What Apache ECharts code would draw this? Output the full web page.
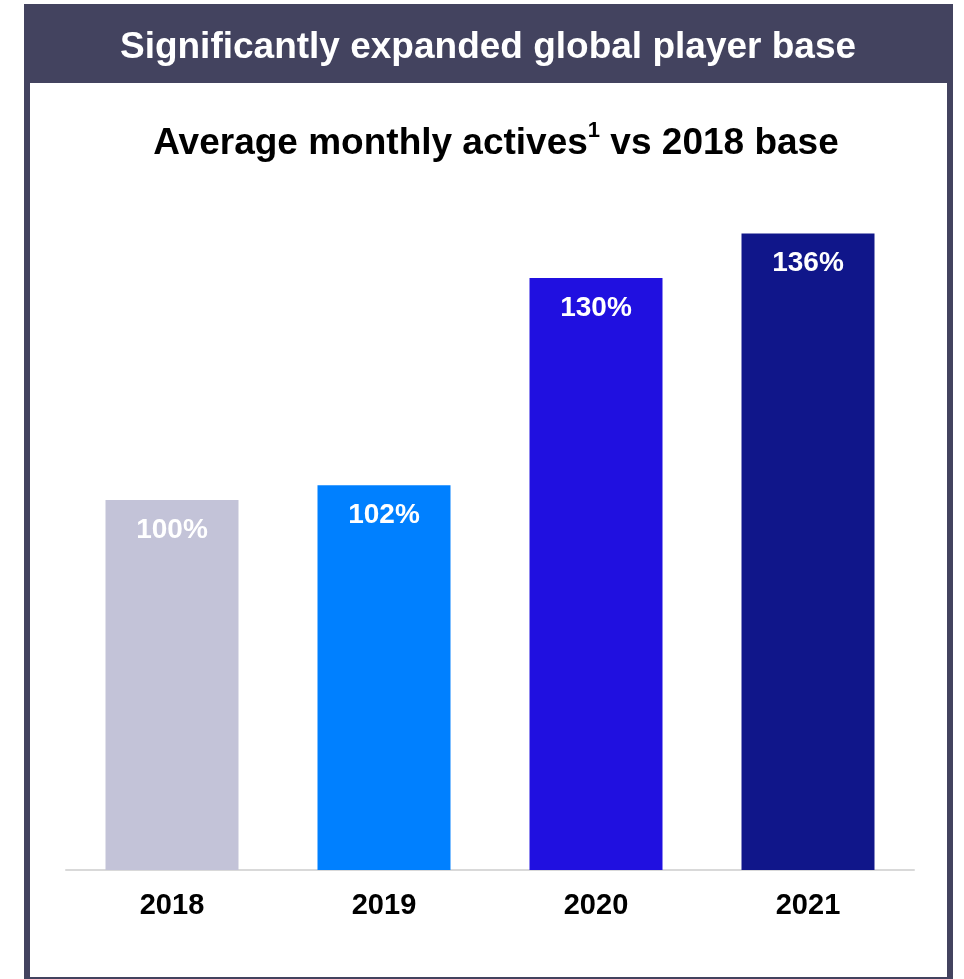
<!DOCTYPE html>
<html>
<head>
<meta charset="utf-8">
<script src="https://cdn.jsdelivr.net/npm/echarts@6/dist/echarts.min.js"></script>
<style>
  html, body { margin: 0; padding: 0; background: #ffffff; }
  #chart { width: 964px; height: 979px; }
</style>
</head>
<body>
<div id="chart"></div>
<script>
// Average monthly actives, indexed to the 2018 level
const years = ['2018', '2019', '2020', '2021'];
const activesIndex = [100, 102, 130, 136];
const barColors = ['#c3c3d8', '#0080ff', '#2010e0', '#10168a'];

const frameColor = '#43435f';
const font = '"Liberation Sans", Arial, sans-serif';

const chart = echarts.init(document.getElementById('chart'), null, { renderer: 'canvas' });

chart.setOption({
  backgroundColor: '#ffffff',
  animation: false,
  graphic: [
    // framed panel with a dark header band
    { type: 'rect', z: -10, shape: { x: 24, y: 4, width: 929, height: 990 }, style: { fill: frameColor } },
    { type: 'rect', z: -9, shape: { x: 30, y: 83, width: 917, height: 894 }, style: { fill: '#ffffff' } },
    {
      type: 'text', z: 10, x: 488, y: 48,
      style: {
        text: 'Significantly expanded global player base',
        textAlign: 'center', textVerticalAlign: 'middle',
        fill: '#ffffff', font: 'bold 37px ' + font
      }
    },
    {
      type: 'text', z: 10, x: 496, y: 141,
      style: {
        text: '{main|Average monthly actives}{sup|1}{main| vs 2018 base}',
        textAlign: 'center', textVerticalAlign: 'middle',
        rich: {
          main: { fill: '#000000', fontFamily: font, fontWeight: 'bold', fontSize: 37, lineHeight: 42, verticalAlign: 'bottom' },
          sup: { fill: '#000000', fontFamily: font, fontWeight: 'bold', fontSize: 22, lineHeight: 42, verticalAlign: 'top' }
        }
      }
    }
  ],
  grid: { left: 66, right: 50, top: 130, height: 740 },
  xAxis: {
    type: 'category',
    data: years,
    axisLine: { show: true, lineStyle: { color: '#d9d9d9', width: 2 } },
    axisTick: { show: false },
    axisLabel: { color: '#000000', fontFamily: font, fontWeight: 'bold', fontSize: 29, margin: 21 }
  },
  yAxis: {
    type: 'value',
    min: 50,
    max: 150,
    show: false,
    splitLine: { show: false }
  },
  series: [{
    type: 'bar',
    barWidth: 133,
    data: activesIndex.map((v, i) => ({ value: v, itemStyle: { color: barColors[i] } })),
    label: {
      show: true,
      position: 'insideTop',
      distance: 16,
      formatter: '{c}%',
      color: '#ffffff',
      fontFamily: font,
      fontWeight: 'bold',
      fontSize: 28
    }
  }]
});
</script>
</body>
</html>
